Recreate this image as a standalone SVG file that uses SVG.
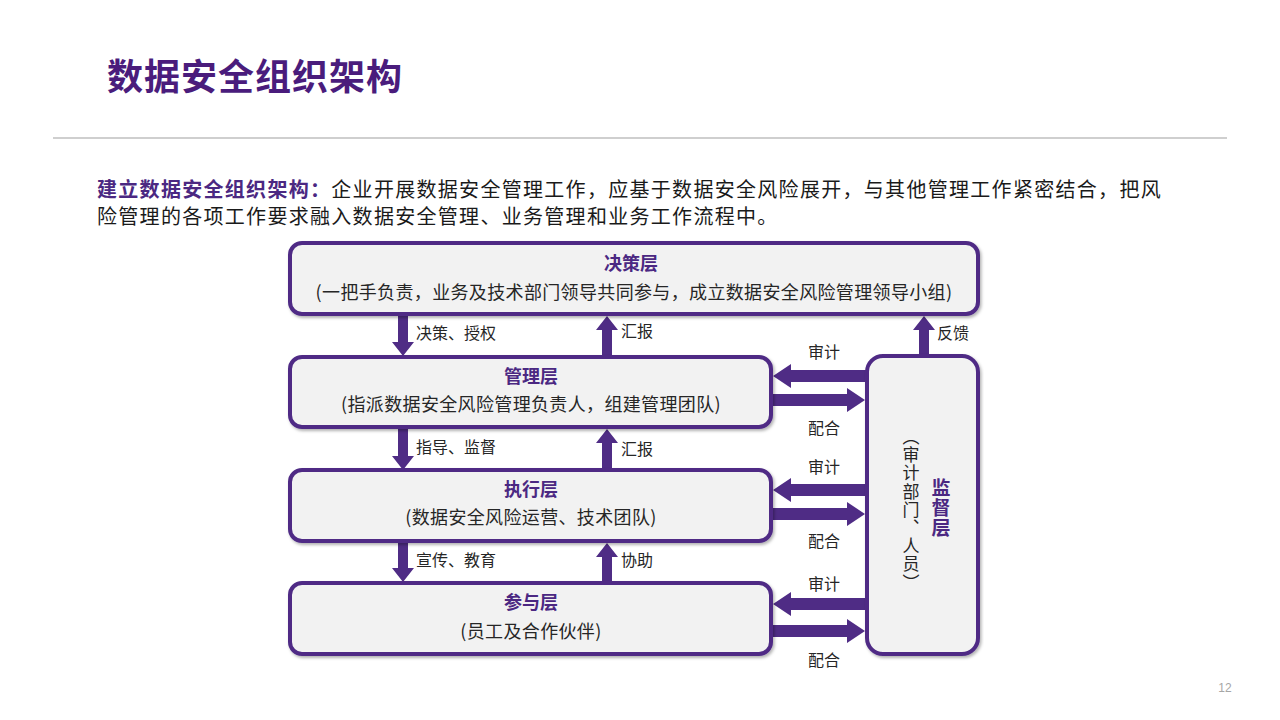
<svg xmlns="http://www.w3.org/2000/svg" width="1280" height="720" viewBox="0 0 1280 720">
<defs>
<filter id="sh" x="-5%" y="-10%" width="110%" height="130%">
<feDropShadow dx="1.5" dy="2" stdDeviation="1.5" flood-color="#000" flood-opacity="0.3"/>
</filter>
</defs>
<style>
.cjk{font-family:"Noto Sans CJK SC","Noto Sans",sans-serif}
.box{fill:#f2f2f2;stroke:#4f2c85;stroke-width:4;filter:url(#sh)}
.arr{fill:#4f2c85}
.bt{font-size:18px;font-weight:bold;fill:#4b2882;text-anchor:middle}
.st{font-size:18px;fill:#262626;text-anchor:middle;letter-spacing:0.35px}
.lb{font-size:16px;fill:#262626}
.vt{writing-mode:vertical-rl;text-orientation:upright}
</style>
<rect width="1280" height="720" fill="#ffffff"/>
<text class="cjk" x="107" y="90" font-size="36" font-weight="bold" fill="#4a1c7c" letter-spacing="1">数据安全组织架构</text>
<line x1="53" y1="138" x2="1227" y2="138" stroke="#bfbfbf" stroke-width="1.5"/>
<text class="cjk" x="97" y="197" font-size="20" letter-spacing="1.3" fill="#1a1a1a"><tspan font-weight="bold" fill="#4b2882">建立数据安全组织架构：</tspan>企业开展数据安全管理工作，应基于数据安全风险展开，与其他管理工作紧密结合，把风</text>
<text class="cjk" x="97" y="224" font-size="20" letter-spacing="1.3" fill="#1a1a1a">险管理的各项工作要求融入数据安全管理、业务管理和业务工作流程中。</text>

<g id="connectors">
<polygon class="arr" points="398,314 408,314 408,342 414,342 403,356 392,342 398,342"/>
<polygon class="arr" points="602,358 612,358 612,330 618,330 607,316 596,330 602,330"/>
<polygon class="arr" points="919,358 929,358 929,330 935,330 924,316 913,330 919,330"/>
<polygon class="arr" points="398,427 408,427 408,456 414,456 403,470 392,456 398,456"/>
<polygon class="arr" points="602,471 612,471 612,443 618,443 607,429 596,443 602,443"/>
<polygon class="arr" points="398,541 408,541 408,568 414,568 403,582 392,568 398,568"/>
<polygon class="arr" points="602,584 612,584 612,557 618,557 607,543 596,557 602,557"/>
<polygon class="arr" points="869,370 791,370 791,364 773,376 791,388 791,382 869,382"/>
<polygon class="arr" points="769,394 847,394 847,388 865,400 847,412 847,406 769,406"/>
<polygon class="arr" points="869,484 791,484 791,478 773,490 791,502 791,496 869,496"/>
<polygon class="arr" points="769,508 847,508 847,502 865,514 847,526 847,520 769,520"/>
<polygon class="arr" points="869,598 791,598 791,592 773,604 791,616 791,610 869,610"/>
<polygon class="arr" points="769,625 847,625 847,619 865,631 847,643 847,637 769,637"/>
<g class="cjk lb">
<text x="416" y="339">决策、授权</text>
<text x="621" y="337">汇报</text>
<text x="937" y="339">反馈</text>
<text x="416" y="453">指导、监督</text>
<text x="621" y="455">汇报</text>
<text x="416" y="566">宣传、教育</text>
<text x="621" y="566">协助</text>
<text x="808" y="358">审计</text>
<text x="808" y="434">配合</text>
<text x="808" y="473">审计</text>
<text x="808" y="547">配合</text>
<text x="808" y="590">审计</text>
<text x="808" y="666">配合</text>
</g>
</g>

<g id="n-juece">
<rect class="box" x="290" y="243" width="688" height="71" rx="12"/>
<text class="cjk bt" x="631" y="270">决策层</text>
<text class="cjk st" x="634" y="299">(一把手负责，业务及技术部门领导共同参与，成立数据安全风险管理领导小组)</text>
</g>
<g id="n-guanli">
<rect class="box" x="290" y="357" width="481" height="70" rx="12"/>
<text class="cjk bt" x="531" y="383">管理层</text>
<text class="cjk st" x="531" y="411">(指派数据安全风险管理负责人，组建管理团队)</text>
</g>
<g id="n-zhixing">
<rect class="box" x="290" y="470" width="481" height="71" rx="12"/>
<text class="cjk bt" x="531" y="496">执行层</text>
<text class="cjk st" x="531" y="524">(数据安全风险运营、技术团队)</text>
</g>
<g id="n-canyu">
<rect class="box" x="290" y="583" width="481" height="71" rx="12"/>
<text class="cjk bt" x="531" y="609">参与层</text>
<text class="cjk st" x="531" y="638">(员工及合作伙伴)</text>
</g>
<g id="n-jiandu">
<rect class="box" x="867" y="356" width="111" height="298" rx="16"/>
<text class="cjk vt" x="911" y="428" font-size="17" letter-spacing="1.2" fill="#262626">（审计部门、人员）</text>
<text class="cjk vt" x="941" y="478" font-size="19" letter-spacing="1" font-weight="bold" fill="#4b2882">监督层</text>
</g>
<text x="1225" y="692" font-family="Liberation Sans, sans-serif" font-size="12" fill="#a6a6a6" text-anchor="middle">12</text>
</svg>
